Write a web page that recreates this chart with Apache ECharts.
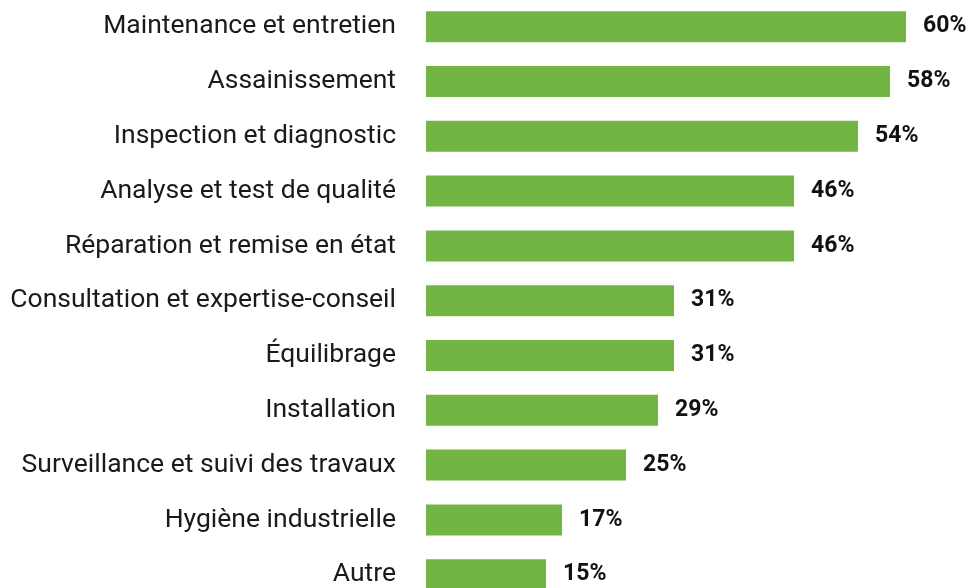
<!DOCTYPE html>
<html>
<head>
<meta charset="utf-8">
<script src="https://cdn.jsdelivr.net/npm/echarts@6/dist/echarts.min.js"></script>
<style>
  html, body { margin: 0; padding: 0; background: #fff; }
  #chart { width: 972px; height: 588px; }
</style>
</head>
<body>
<div id="chart"></div>
<script>
// catégories, du haut vers le bas
const categories = [
  'Maintenance et entretien',
  'Assainissement',
  'Inspection et diagnostic',
  'Analyse et test de qualité',
  'Réparation et remise en état',
  'Consultation et expertise-conseil',
  'Équilibrage',
  'Installation',
  'Surveillance et suivi des travaux',
  'Hygiène industrielle',
  'Autre'
]
const values = [60, 58, 54, 46, 46, 31, 31, 29, 25, 17, 15]

const chart = echarts.init(document.getElementById('chart'))
chart.setOption({
  animation: false,
  grid: {
    left: 426,
    top: -0.7,
    width: 480,
    height: 602.8,
    outerBoundsMode: 'none'
  },
  xAxis: {
    type: 'value',
    min: 0,
    max: 60,
    show: false
  },
  yAxis: {
    type: 'category',
    inverse: true,
    data: categories,
    axisLine: { show: false },
    axisTick: { show: false },
    axisLabel: {
      margin: 30,
      color: '#1a1a1a',
      fontFamily: 'Roboto',
      fontSize: 26.5
    }
  },
  series: [
    {
      type: 'bar',
      data: values,
      barWidth: 31,
      itemStyle: { color: '#72b545' },
      label: {
        show: true,
        position: 'right',
        distance: 17,
        formatter: '{c}%',
        color: '#111',
        fontFamily: 'Roboto',
        fontWeight: 'bold',
        fontSize: 23
      }
    }
  ]
})
</script>
</body>
</html>
